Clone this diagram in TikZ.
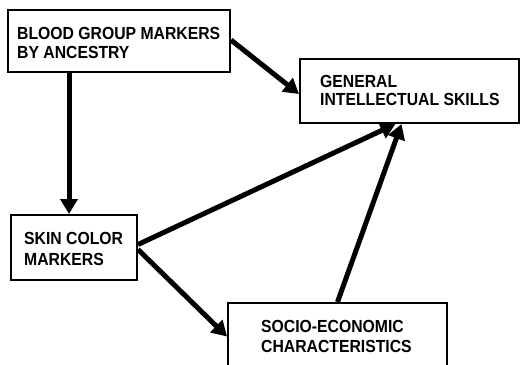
\documentclass[tikz,border=0pt]{standalone}
\usepackage{fontspec}
\setmainfont{Liberation Sans}[FakeStretch=0.9]
\usetikzlibrary{arrows.meta}
\begin{document}
\begin{tikzpicture}[x=1pt,y=-1pt,
  box/.style={draw, line width=2pt, inner sep=0pt},
  caption/.style={anchor=north west, inner sep=0pt, align=left,
    font=\bfseries\fontsize{17.5}{#1}\selectfont},
  link/.style={line width=5pt, -{Triangle[length=15pt,width=17pt]}}
]
\clip (0,0) rectangle (521,364);

% boxes
\node[box, minimum width=222pt, minimum height=62pt] (blood) at (119,41) {};
\node[box, minimum width=219pt, minimum height=64pt] (gis)   at (409.5,91) {};
\node[box, minimum width=126pt, minimum height=65pt] (skin)  at (74,247.5) {};
\node[box, minimum width=219pt, minimum height=67pt] (socio) at (337.5,336.5) {};

% captions
\node[caption=19.5pt] (tblood) at (17,27) {BLOOD GROUP MARKERS\\BY ANCESTRY};
\node[caption=18.5pt] (tgis)   at (320,75) {GENERAL\\INTELLECTUAL SKILLS};
\node[caption=21pt]   (tskin)  at (24,232) {SKIN COLOR\\MARKERS};
\node[caption=19.6pt] (tsocio) at (261,320) {SOCIO-ECONOMIC\\CHARACTERISTICS};

% causal links
\draw[link] ([yshift=1pt]blood.east) -- ([yshift=-3pt]gis.west);
\draw[link] ([xshift=62pt]blood.south west) -- ([xshift=59pt]skin.north west);
\draw[link] ([yshift=3pt]skin.east) -- ([xshift=-14pt]gis.south);
\draw[link] ([yshift=-2pt]skin.east) -- (socio.west);
\draw[link] (socio.north) -- ([xshift=-8pt]gis.south);
\end{tikzpicture}
\end{document}
